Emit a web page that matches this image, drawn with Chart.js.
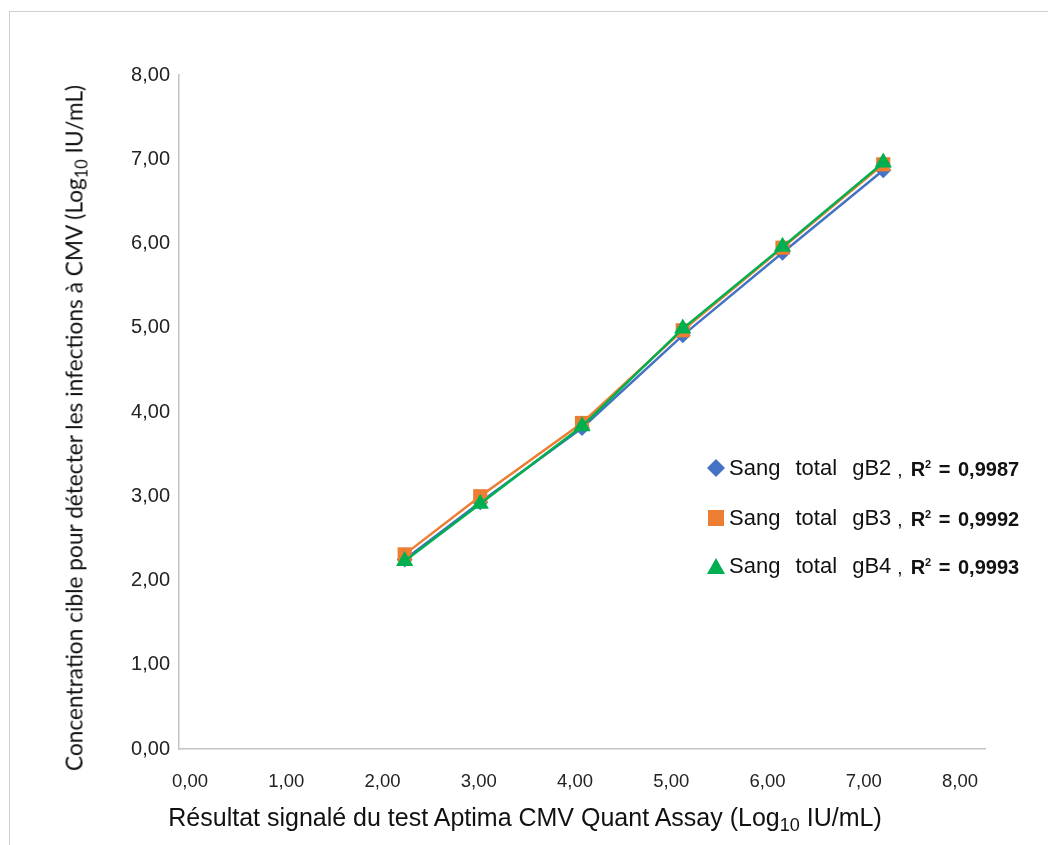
<!DOCTYPE html>
<html>
<head>
<meta charset="utf-8">
<script src="https://cdn.jsdelivr.net/npm/chart.js@4.4.1/dist/chart.umd.min.js"></script>
<style>
  html, body { margin: 0; padding: 0; background: #fff; }
  body { width: 1048px; height: 845px; position: relative; overflow: hidden; font-family: 'Liberation Sans', Arial, sans-serif; }
  #frame { position: absolute; left: 9px; top: 11px; width: 1100px; height: 900px; border: 1.5px solid #cfcfcf; box-sizing: border-box; }
  #wrap { position: absolute; left: 0; top: 0; width: 1048px; height: 845px; }
  .ytitle { position: absolute; left: 74px; top: 428px; transform: translate(-50%, -50%) rotate(-90deg); white-space: nowrap; font-family: Lato, 'Open Sans', sans-serif; font-size: 22.7px; color: #111; }
  .xtitle { position: absolute; left: 525px; top: 817px; transform: translate(-50%, -50%); white-space: nowrap; font-size: 25px; color: #111; }
  sub { font-size: 0.72em; vertical-align: -0.3em; line-height: 0; }
  .leg-row { position: absolute; left: 706px; white-space: nowrap; color: #111; }
  .leg-row .name { font-size: 22px; word-spacing: 9px; vertical-align: middle; }
  .leg-row .r2 { font-size: 20px; font-weight: bold; word-spacing: 2px; vertical-align: -4px; }
  .leg-row .comma { font-size: 19px; margin: 0 8px 0 6px; vertical-align: -4px; }
  .mk { display: inline-block; vertical-align: middle; margin-right: 3px; }
</style>
</head>
<body>
<div id="frame"></div>
<div id="wrap"><canvas id="chart" width="1048" height="845"></canvas></div>
<div class="ytitle">Concentration cible pour détecter les infections à CMV (Log<sub>10</sub> IU/mL)</div>
<div class="xtitle">Résultat signalé du test Aptima CMV Quant Assay (Log<sub>10</sub> IU/mL)</div>
<div id="legend"></div>
<script>
// Reported result (x) vs target concentration (y), Log10 IU/mL
const xValues = [2.24, 2.99, 4.00, 5.00, 5.99, 6.99];
const gB2 = [2.25, 2.93, 3.81, 4.91, 5.89, 6.87];
const gB3 = [2.31, 3.00, 3.87, 4.97, 5.95, 6.94];
const gB4 = [2.23, 2.91, 3.83, 4.99, 5.96, 6.96];

const seriesNames = ['Sang total gB2', 'Sang total gB3', 'Sang total gB4'];
const r2Values = ['0,9987', '0,9992', '0,9993'];
const colors = ['#4472C4', '#ED7D31', '#00B050'];
const markers = ['rectRot', 'rect', 'triangle'];

const axisMin = 0;
const axisMax = 8;
const tickStep = 1;

function fmt(v) {
  return v.toFixed(2).replace('.', ',');
}

function toPoints(ys) {
  return xValues.map((x, i) => ({ x: x, y: ys[i] }));
}

const allSeries = [gB2, gB3, gB4];
const datasets = allSeries.map((ys, i) => ({
  label: seriesNames[i],
  data: toPoints(ys),
  showLine: true,
  borderColor: colors[i],
  backgroundColor: colors[i],
  borderWidth: 2.5,
  pointStyle: markers[i],
  pointRadius: i === 0 ? 8 : 10,
  pointBorderWidth: 0,
  order: 3 - i
}));

const tickFont = { family: "'Liberation Sans', Arial, sans-serif", size: 20 };

new Chart(document.getElementById('chart'), {
  type: 'scatter',
  data: { datasets: datasets },
  options: {
    responsive: false,
    animation: false,
    layout: { padding: { top: 75, right: 63, left: 0, bottom: 0 } },
    plugins: { legend: { display: false }, tooltip: { enabled: false } },
    scales: {
      x: {
        type: 'linear',
        min: axisMin,
        max: axisMax,
        ticks: { display: false, stepSize: tickStep },
        grid: { display: false },
        border: { color: '#c4c4c4', width: 1.5 },
        afterFit: (s) => { s.height = 0; }
      },
      // label-only axis: the reference prints its x labels slightly compressed
      xl: {
        type: 'linear',
        position: 'bottom',
        min: -0.114,
        max: 8.26,
        ticks: {
          stepSize: tickStep,
          includeBounds: false,
          padding: 22,
          color: '#222',
          font: { family: "'Liberation Sans', Arial, sans-serif", size: 18.5 },
          callback: (v) => (v >= 0 && v <= 8 ? fmt(v) : '')
        },
        grid: { display: false, drawTicks: false },
        border: { display: false },
        afterFit: (s) => { s.height = 96; }
      },
      y: {
        type: 'linear',
        min: axisMin,
        max: axisMax,
        ticks: { stepSize: tickStep, padding: 9, color: '#222', font: tickFont, callback: (v) => fmt(v) },
        grid: { display: false, drawTicks: false },
        border: { color: '#c4c4c4', width: 1.5 },
        afterFit: (s) => { s.width = 179; }
      }
    }
  }
});

// legend, drawn as html so the R² part can be bold
const legendTops = [455, 505, 553];
const markerHtml = [
  '<svg class="mk" width="20" height="20"><polygon points="10,1 19,10 10,19 1,10" fill="' + colors[0] + '"/></svg>',
  '<svg class="mk" width="20" height="20"><rect x="2" y="2" width="16" height="16" fill="' + colors[1] + '"/></svg>',
  '<svg class="mk" width="20" height="20"><polygon points="10,2 19,18 1,18" fill="' + colors[2] + '"/></svg>'
];
const legend = document.getElementById('legend');
seriesNames.forEach((name, i) => {
  const row = document.createElement('div');
  row.className = 'leg-row';
  row.style.top = legendTops[i] + 'px';
  row.innerHTML = markerHtml[i] + '<span class="name">' + name + '</span><span class="comma">,</span>' +
    '<span class="r2">R<sup style="font-size:0.55em">2</sup> = ' + r2Values[i] + '</span>';
  legend.appendChild(row);
});
</script>
</body>
</html>
